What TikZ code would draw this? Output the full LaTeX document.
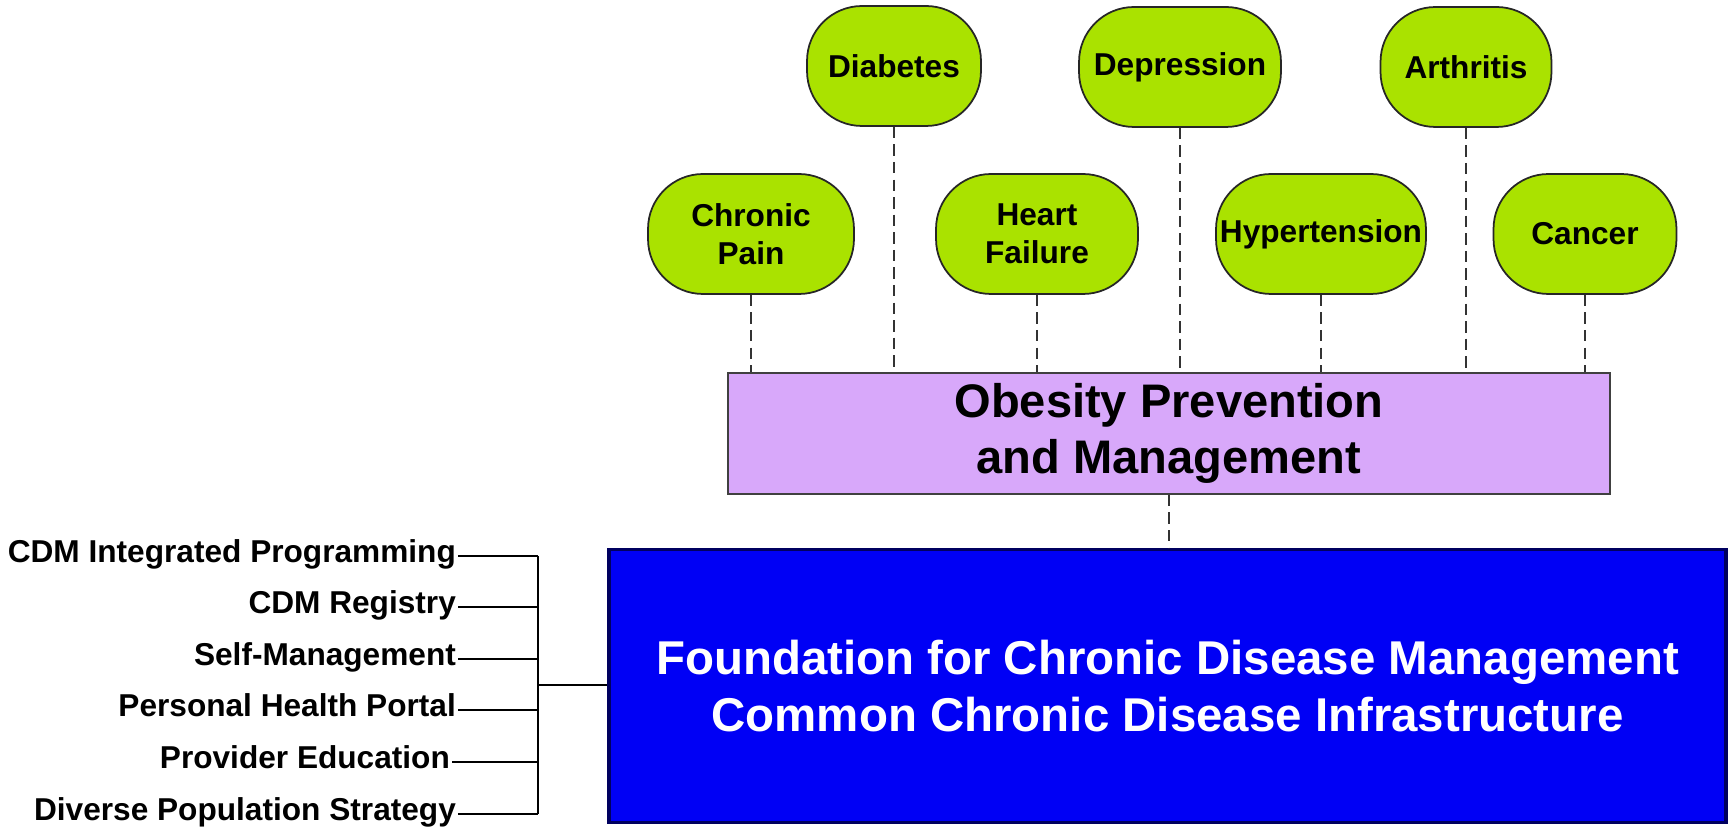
\documentclass[tikz,border=0pt]{standalone}
\usepackage{fontspec}
\setmainfont{Liberation Sans}
\usetikzlibrary{positioning}

\definecolor{diseasegreen}{RGB}{170,226,0}
\definecolor{obesitypurple}{RGB}{216,168,250}
\definecolor{foundationblue}{RGB}{0,0,245}
\definecolor{foundationedge}{RGB}{0,0,95}

\begin{document}
\begin{tikzpicture}[x=0.02cm,y=-0.02cm]
    \tikzset{disease/.style={draw=black!85, fill=diseasegreen, line width=1pt,
                rounded corners=1.1cm, minimum height=2.4cm, align=center, inner sep=0pt,
                font=\bfseries\fontsize{18}{21.8}\selectfont}};
    \tikzset{link/.style={line width=0.85pt, black!80, dash pattern=on 6.5pt off 3.5pt}};
    \tikzset{line/.style={line width=1.1pt}};
    \tikzset{part/.style={inner sep=1pt, anchor=east, text height=0.72em, text depth=0pt,
                font=\bfseries\fontsize{18}{21.8}\selectfont}};

    \useasboundingbox (0,0) rectangle (1732,830);

    % the two boxes
    \node[draw=black!75, fill=obesitypurple, line width=1pt, minimum width=17.64cm,
          minimum height=2.42cm, align=center, inner sep=0pt,
          font=\bfseries\fontsize{26.8}{31.5}\selectfont] (obesity) at (1169,433.5)
          {Obesity Prevention\\and Management};
    \node[draw=foundationedge, fill=foundationblue, line width=2.2pt, minimum width=22.36cm,
          minimum height=5.46cm, align=center, inner sep=0pt, text=white,
          font=\bfseries\fontsize{27}{32.5}\selectfont] (found) at (1167.5,686)
          {Foundation for Chronic Disease Management\\Common Chronic Disease Infrastructure};

    % diseases
    \node[disease, minimum width=3.48cm] (diab) at (894,66) {Diabetes};
    \node[disease, minimum width=4.04cm] (depr) at (1180,67) {Depression};
    \node[disease, minimum width=3.42cm] (arth) at (1466,67) {Arthritis};
    \node[disease, minimum width=4.12cm] (pain) at (751,234) {Chronic\\Pain};
    \node[disease, minimum width=4.04cm] (heart) at (1037,234) {Heart\\Failure};
    \node[disease, minimum width=4.2cm] (hyper) at (1321,234) {Hypertension};
    \node[disease, minimum width=3.66cm] (cancer) at (1585,234) {Cancer};

    \foreach \d in {diab,depr,arth,pain,heart,hyper,cancer}
        \draw[link] (\d.south) -- (\d.south |- obesity.north);
    \draw[link] (obesity.south) -- (found.north -| obesity.south);

    % parts of the foundation
    \node[part] (p1) at (458,556) {CDM Integrated Programming};
    \node[part] (p2) at (458,607) {CDM Registry};
    \node[part] (p3) at (458,659) {Self-Management};
    \node[part] (p4) at (458,710) {Personal Health Portal};
    \node[part] (p5) at (452,762) {Provider Education};
    \node[part] (p6) at (458,814) {Diverse Population Strategy};
    \coordinate (bus) at (538,685);

    \foreach \p in {p1,p2,p3,p4,p5,p6}
        \draw[line] (\p.east) -- (\p.east -| bus);
    \draw[line] (bus |- p1.east) -- (bus |- p6.east);
    \draw[line] (bus) -- (found.west |- bus);
\end{tikzpicture}
\end{document}
